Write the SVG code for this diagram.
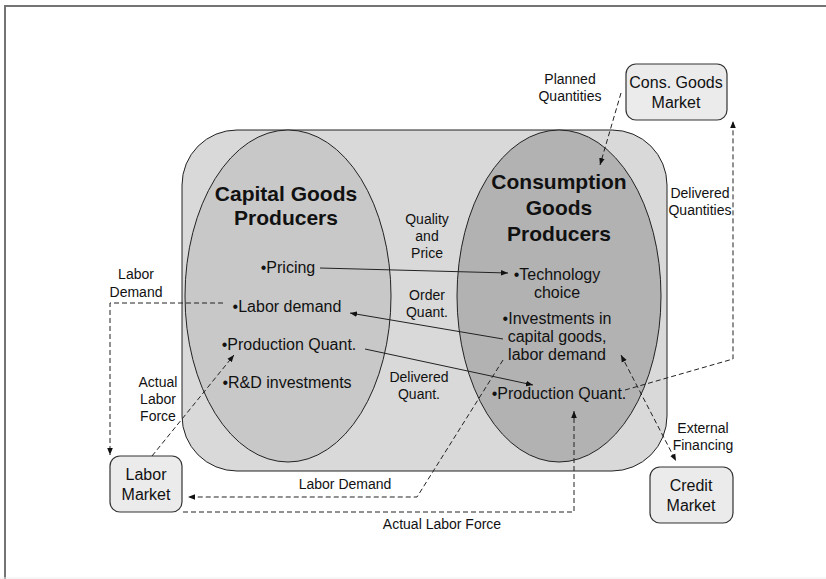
<svg xmlns="http://www.w3.org/2000/svg" width="826" height="579" viewBox="0 0 826 579">
<style>
text{font-family:"Liberation Sans",Arial,sans-serif;fill:#111;text-anchor:middle}
.t{font-size:16px}
.s{font-size:14px}
.b{font-size:21px;font-weight:bold}
.box{fill:#ebebeb;stroke:#333;stroke-width:1.2}
.sol{fill:none;stroke:#222;stroke-width:1}
.dash{fill:none;stroke:#222;stroke-width:1;stroke-dasharray:5,3}
</style>
<defs>
<marker id="ah" viewBox="0 0 10 10" refX="10" refY="5" markerWidth="7" markerHeight="7" orient="auto-start-reverse" markerUnits="userSpaceOnUse">
<path d="M0,1 L10,5 L0,9 z" fill="#111"/>
</marker>
</defs>
<rect width="826" height="579" fill="#fff"/>
<path d="M5,579 V6 H826" fill="none" stroke="#747474" stroke-width="2"/>
<line x1="0" y1="578" x2="826" y2="578" stroke="#eeeeee" stroke-width="1"/>

<g id="production-sector">
<rect x="182" y="130" width="485" height="341" rx="55" ry="55" fill="#d9d9d9" stroke="#222" stroke-width="1"/>
</g>
<g id="capital-goods-producers">
<ellipse cx="288" cy="296" rx="103" ry="166" fill="#c8c8c8" stroke="#222" stroke-width="1"/>
<text class="b" x="286" y="201">Capital Goods</text>
<text class="b" x="286" y="225">Producers</text>
<text class="t" x="288" y="273">•Pricing</text>
<text class="t" x="287" y="312">•Labor demand</text>
<text class="t" x="289" y="350">•Production Quant.</text>
<text class="t" x="287" y="388">•R&amp;D investments</text>
</g>
<g id="consumption-goods-producers">
<ellipse cx="559" cy="296" rx="102" ry="166" fill="#b2b2b2" stroke="#222" stroke-width="1"/>
<text class="b" x="559" y="189">Consumption</text>
<text class="b" x="559" y="215">Goods</text>
<text class="b" x="559" y="241">Producers</text>
<text class="t" x="557" y="280">•Technology</text>
<text class="t" x="557" y="298">choice</text>
<text class="t" x="557" y="324">•Investments in</text>
<text class="t" x="557" y="342">capital goods,</text>
<text class="t" x="557" y="360">labor demand</text>
<text class="t" x="559" y="399">•Production Quant.</text>
</g>
<g id="cons-goods-market">
<rect class="box" x="626" y="64" width="101" height="56" rx="10"/>
<text class="t" x="676" y="88">Cons. Goods</text>
<text class="t" x="676" y="108">Market</text>
</g>
<g id="labor-market">
<rect class="box" x="110" y="456" width="72" height="56" rx="10"/>
<text class="t" x="146" y="480">Labor</text>
<text class="t" x="146" y="500">Market</text>
</g>
<g id="credit-market">
<rect class="box" x="650" y="467" width="83" height="56" rx="10"/>
<text class="t" x="691" y="491">Credit</text>
<text class="t" x="691" y="511">Market</text>
</g>

<g id="connectors">
<line class="sol" x1="320" y1="268" x2="508" y2="273" marker-end="url(#ah)"/>
<line class="sol" x1="503" y1="339" x2="350" y2="313" marker-end="url(#ah)"/>
<line class="sol" x1="365" y1="349" x2="533" y2="385" marker-end="url(#ah)"/>
<polyline class="dash" points="223,303 110,303 110,455" marker-end="url(#ah)"/>
<line class="dash" x1="152" y1="456" x2="234" y2="355" marker-end="url(#ah)"/>
<polyline class="dash" points="503,360 417,497 188,497" marker-end="url(#ah)"/>
<polyline class="dash" points="183,512 574,512 574,411" marker-end="url(#ah)"/>
<line class="dash" x1="621" y1="93" x2="600" y2="165" marker-end="url(#ah)"/>
<polyline class="dash" points="625,390 733,359 733,121" marker-end="url(#ah)"/>
<line class="dash" x1="621" y1="355" x2="676" y2="461" marker-start="url(#ah)" marker-end="url(#ah)"/>
</g>

<g id="labels">
<text class="s" x="427" y="224">Quality</text>
<text class="s" x="427" y="241">and</text>
<text class="s" x="427" y="258">Price</text>
<text class="s" x="427" y="300">Order</text>
<text class="s" x="427" y="317">Quant.</text>
<text class="s" x="419" y="382">Delivered</text>
<text class="s" x="419" y="399">Quant.</text>
<text class="s" x="136" y="279">Labor</text>
<text class="s" x="136" y="297">Demand</text>
<text class="s" x="158" y="387">Actual</text>
<text class="s" x="158" y="404">Labor</text>
<text class="s" x="158" y="421">Force</text>
<text class="s" x="345" y="489">Labor Demand</text>
<text class="s" x="442" y="529">Actual Labor Force</text>
<text class="s" x="570" y="84">Planned</text>
<text class="s" x="570" y="101">Quantities</text>
<text class="s" x="700" y="198">Delivered</text>
<text class="s" x="700" y="215">Quantities</text>
<text class="s" x="703" y="433">External</text>
<text class="s" x="703" y="450">Financing</text>
</g>
</svg>
